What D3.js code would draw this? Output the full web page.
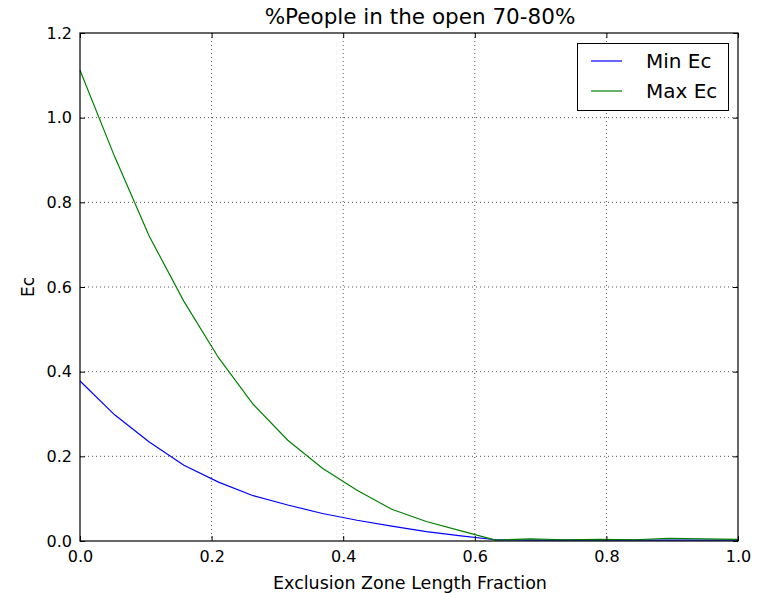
<!DOCTYPE html>
<html>
<head>
<meta charset="utf-8">
<script src="https://cdn.jsdelivr.net/npm/d3@7"></script>
<style>
  html, body { margin: 0; padding: 0; background: #fff; }
  svg { display: block; font-family: "DejaVu Sans", sans-serif; }
</style>
</head>
<body>
<svg id="chart" width="765" height="593"></svg>
<script>
// Exclusion zone length fraction, sampled at 20 evenly spaced points
const xValues = [0, 1/19, 2/19, 3/19, 4/19, 5/19, 6/19, 7/19, 8/19, 9/19,
                 10/19, 11/19, 12/19, 13/19, 14/19, 15/19, 16/19, 17/19, 18/19, 1];
const minEc = [0.378, 0.298, 0.234, 0.179, 0.139, 0.107, 0.085, 0.065, 0.049, 0.035,
               0.022, 0.012, 0.003, 0.002, 0.002, 0.002, 0.002, 0.002, 0.002, 0.002];
const maxEc = [1.112, 0.908, 0.720, 0.566, 0.433, 0.323, 0.238, 0.172, 0.120, 0.075,
               0.046, 0.024, 0.002, 0.005, 0.003, 0.004, 0.003, 0.006, 0.005, 0.004];
const xTicks = [0, 0.2, 0.4, 0.6, 0.8, 1.0];
const yTicks = [0, 0.2, 0.4, 0.6, 0.8, 1.0, 1.2];
const seriesNames = ["Min Ec", "Max Ec"];
const seriesColors = ["#0000ff", "#008000"];

const svg = d3.select("#chart");
const m = { left: 80, right: 738, top: 33, bottom: 541 };

const x = d3.scaleLinear().domain([0, 1]).range([m.left, m.right]);
const y = d3.scaleLinear().domain([0, 1.2]).range([m.bottom, m.top]);

// dotted grid
const grid = svg.append("g");
grid.selectAll("line.gx").data(xTicks.slice(1, -1)).enter().append("line")
  .attr("x1", d => x(d)).attr("x2", d => x(d))
  .attr("y1", m.top).attr("y2", m.bottom)
  .attr("stroke", "#555").attr("stroke-width", 1).attr("stroke-dasharray", "1,3");
grid.selectAll("line.gy").data(yTicks.slice(1, -1)).enter().append("line")
  .attr("y1", d => y(d)).attr("y2", d => y(d))
  .attr("x1", m.left).attr("x2", m.right)
  .attr("stroke", "#555").attr("stroke-width", 1).attr("stroke-dasharray", "1,3");

// data lines
const line = d3.line().x((d, i) => x(xValues[i])).y(d => y(d));
[minEc, maxEc].forEach((s, k) => {
  svg.append("path").datum(s).attr("d", line)
    .attr("fill", "none").attr("stroke", seriesColors[k]).attr("stroke-width", 1.2);
});

// axes with inward ticks on all four sides
const fmt = d3.format(".1f");
const bottomAxis = d3.axisBottom(x).tickValues(xTicks).tickFormat(fmt).tickSizeInner(-5).tickSizeOuter(0).tickPadding(10);
const topAxis = d3.axisTop(x).tickValues(xTicks).tickFormat("").tickSizeInner(-5).tickSizeOuter(0);
const leftAxis = d3.axisLeft(y).tickValues(yTicks).tickFormat(fmt).tickSizeInner(-5).tickSizeOuter(0).tickPadding(8);
const rightAxis = d3.axisRight(y).tickValues(yTicks).tickFormat("").tickSizeInner(-5).tickSizeOuter(0);

function styleAxis(g) {
  g.select(".domain").remove();
  g.selectAll(".tick line").attr("stroke", "#000");
  g.selectAll(".tick text").attr("fill", "#000").style("font-size", "16px")
    .style("font-family", "DejaVu Sans, sans-serif");
}
svg.append("g").attr("transform", `translate(0,${m.bottom})`).call(bottomAxis).call(styleAxis);
svg.append("g").attr("transform", `translate(0,${m.top})`).call(topAxis).call(styleAxis);
svg.append("g").attr("transform", `translate(${m.left},0)`).call(leftAxis).call(styleAxis);
svg.append("g").attr("transform", `translate(${m.right},0)`).call(rightAxis).call(styleAxis);

// frame
svg.append("rect").attr("x", m.left).attr("y", m.top)
  .attr("width", m.right - m.left).attr("height", m.bottom - m.top)
  .attr("fill", "none").attr("stroke", "#000").attr("stroke-width", 1.2);

// title and axis labels
svg.append("text").attr("x", (m.left + m.right) / 2 + 11).attr("y", 24)
  .attr("text-anchor", "middle").style("font-size", "21.5px").text("%People in the open 70-80%");
svg.append("text").attr("x", (m.left + m.right) / 2 + 1).attr("y", 589)
  .attr("text-anchor", "middle").style("font-size", "17.5px").text("Exclusion Zone Length Fraction");
svg.append("text").attr("transform", `translate(34,${(m.top + m.bottom) / 2}) rotate(-90)`)
  .attr("text-anchor", "middle").style("font-size", "17px").text("Ec");

// legend
const lg = svg.append("g");
lg.append("rect").attr("x", 577.5).attr("y", 43.5).attr("width", 151).attr("height", 67)
  .attr("fill", "#fff").attr("stroke", "#000").attr("stroke-width", 1);
seriesNames.forEach((name, k) => {
  const ly = 61 + k * 30;
  lg.append("line").attr("x1", 591).attr("x2", 622).attr("y1", ly).attr("y2", ly)
    .attr("stroke", seriesColors[k]).attr("stroke-width", 1.2);
  lg.append("text").attr("x", 646).attr("y", ly + 7).style("font-size", "20px").text(name);
});
</script>
</body>
</html>
